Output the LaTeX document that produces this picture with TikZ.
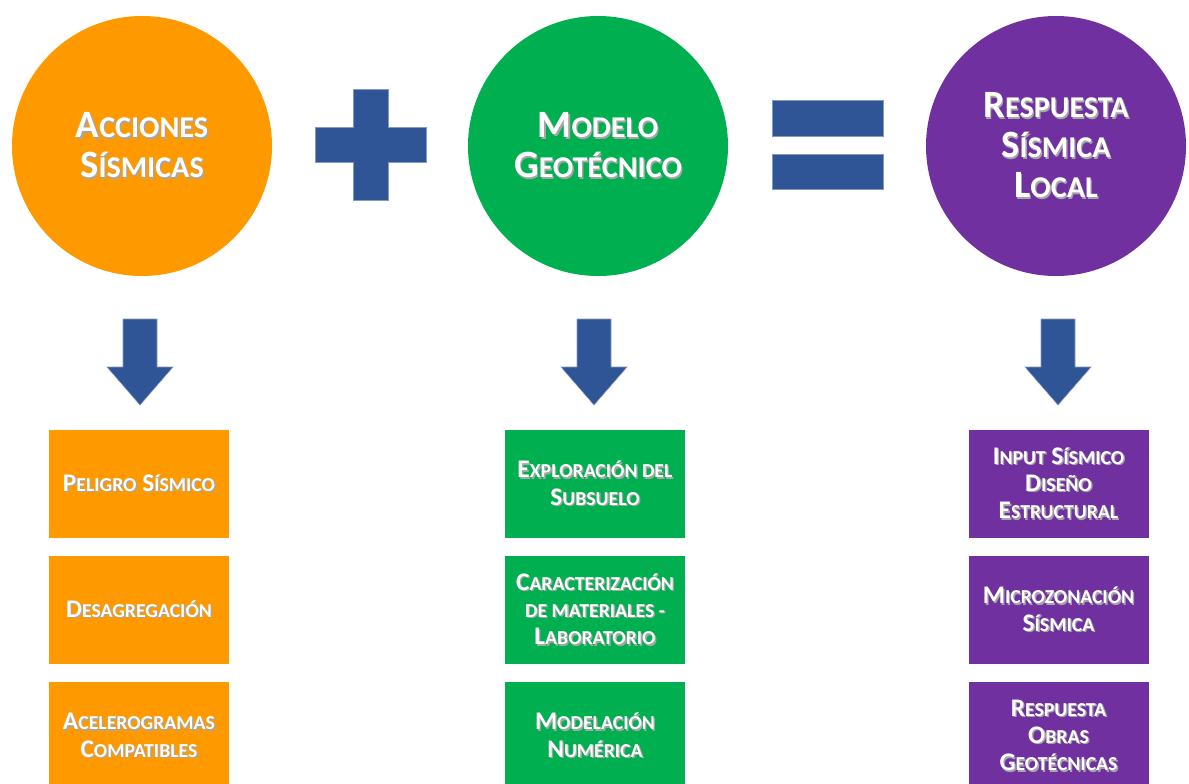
\documentclass[tikz,border=0pt]{standalone}
\usepackage{fontspec}
\setmainfont{Carlito}
\usepackage{tikz}
\usetikzlibrary{positioning}

\definecolor{naranja}{HTML}{FF9900}
\definecolor{verde}{HTML}{00B050}
\definecolor{morado}{HTML}{7030A0}
\definecolor{azul}{HTML}{2F5597}

% versalitas simuladas y sombra del texto
\makeatletter
\newcommand\lc[1]{{\fontsize{\strip@pt\dimexpr0.78\dimexpr\f@size pt\relax\relax}{0}\selectfont #1}}
\makeatother
\newcommand\shd[1]{\makebox[0pt][l]{\kern1pt\raisebox{-1pt}{\textcolor{black!35}{#1}}}#1}

\begin{document}
\begin{tikzpicture}[x=0.75pt, y=-0.75pt,
  circ/.style={circle, inner sep=0, minimum size=195pt, text=white, align=center, font=\bfseries\fontsize{29}{30}\selectfont},
  caja/.style={rectangle, inner sep=0, minimum width=135pt, minimum height=81pt, text=white, align=center, font=\bfseries\fontsize{19}{20.5}\selectfont},
  bloque/.style={fill=azul, draw=azul!60!white, line width=0.4pt}]

\useasboundingbox (0,0) rectangle (1189,783);
\clip (0,0) rectangle (1189,783);

\node[circ, fill=naranja] (circAcciones)  at (142,146)  {\shd{A\lc{CCIONES}}\\\shd{S\lc{ÍSMICAS}}};
\node[circ, fill=verde]   (circModelo)    at (598,146)  {\shd{M\lc{ODELO}}\\\shd{G\lc{EOTÉCNICO}}};
\node[circ, fill=morado]  (circRespuesta) at (1056,146) {\shd{R\lc{ESPUESTA}}\\\shd{S\lc{ÍSMICA}}\\\shd{L\lc{OCAL}}};

% signos + y =
\filldraw[bloque] (353,89) -- (388,89) -- (388,127) -- (426,127) -- (426,162) -- (388,162) -- (388,200)
  -- (353,200) -- (353,162) -- (315,162) -- (315,127) -- (353,127) -- cycle;
\filldraw[bloque] (772,100) rectangle (883,136);
\filldraw[bloque] (772,154) rectangle (883,189);

% flechas
\foreach \cx in {140,594,1058}
  \filldraw[bloque] (\cx-17,319) -- (\cx+17,319) -- (\cx+17,367) -- (\cx+33,367) -- (\cx,405)
    -- (\cx-33,367) -- (\cx-17,367) -- cycle;

\node[caja, fill=naranja] (boxPeligro)       at (139,484) {\shd{P\lc{ELIGRO} S\lc{ÍSMICO}}};
\node[caja, fill=naranja] (boxDesagregacion) at (139,610) {\shd{D\lc{ESAGREGACIÓN}}};
\node[caja, fill=naranja] (boxAcelerogramas) at (139,736) {\shd{A\lc{CELEROGRAMAS}}\\\shd{C\lc{OMPATIBLES}}};

\node[caja, fill=verde] (boxExploracion)   at (595,484) {\shd{E\lc{XPLORACIÓN DEL}}\\\shd{S\lc{UBSUELO}}};
\node[caja, fill=verde] (boxCaracterizacion) at (595,610) {\shd{C\lc{ARACTERIZACIÓN}}\\\shd{\lc{DE MATERIALES -}}\\\shd{L\lc{ABORATORIO}}};
\node[caja, fill=verde] (boxModelacion)    at (595,736) {\shd{M\lc{ODELACIÓN}}\\\shd{N\lc{UMÉRICA}}};

\node[caja, fill=morado] (boxInput)         at (1058.5,484) {\shd{I\lc{NPUT} S\lc{ÍSMICO}}\\\shd{D\lc{ISEÑO}}\\\shd{E\lc{STRUCTURAL}}};
\node[caja, fill=morado] (boxMicrozonacion) at (1058.5,610) {\shd{M\lc{ICROZONACIÓN}}\\\shd{S\lc{ÍSMICA}}};
\node[caja, fill=morado] (boxObras)         at (1058.5,736) {\shd{R\lc{ESPUESTA}}\\\shd{O\lc{BRAS}}\\\shd{G\lc{EOTÉCNICAS}}};
\end{tikzpicture}
\end{document}
